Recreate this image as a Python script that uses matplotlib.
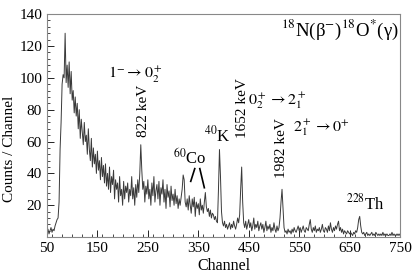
import numpy as np
import matplotlib
matplotlib.use("Agg")
import matplotlib.pyplot as plt
from matplotlib.ticker import MultipleLocator

plt.rcParams['font.family'] = ['Liberation Serif', 'DejaVu Serif']
plt.rcParams['mathtext.fontset'] = 'stix'

# channel grid (every 2nd channel) and counts
ch_start, ch_step = 50, 2
counts = [
    3, 5, 2, 4, 6, 3, 5, 4, 7, 9,            # 50-68
    11, 12, 22, 55, 72, 96, 102, 100, 128, 97,  # 70-88
    108, 94, 110, 90, 104, 86, 92, 78, 88, 76,  # 90-108
    84, 68, 80, 62, 74, 66, 58, 72, 60, 64,   # 110-128
    52, 68, 55, 48, 62, 44, 56, 46, 52, 40,   # 130-148
    54, 42, 48, 36, 50, 38, 45, 34, 46, 32,   # 150-168
    40, 30, 44, 28, 38, 33, 42, 24, 36, 30,   # 170-188
    34, 22, 38, 26, 30, 20, 35, 24, 32, 28,   # 190-208
    34, 22, 30, 26, 38, 24, 31, 20, 33, 25,   # 210-228
    36, 28, 40, 58, 42, 30, 35, 22, 32, 27,   # 230-248
    36, 24, 30, 20, 34, 26, 38, 22, 29, 33,   # 250-268
    24, 35, 20, 31, 27, 36, 22, 30, 18, 33,   # 270-288
    25, 29, 19, 32, 23, 27, 20, 30, 21, 26,   # 290-308
    18, 24, 20, 25, 30, 39, 36, 22, 19, 24,   # 310-328
    17, 26, 20, 15, 24, 19, 25, 13, 22, 18,   # 330-348
    21, 14, 24, 17, 20, 15, 22, 28, 19, 16,   # 350-368
    18, 13, 17, 12, 15, 14, 11, 13, 10, 9,    # 370-388
    30, 55, 38, 16, 9, 7, 10, 6, 8, 5,        # 390-408
    7, 9, 5, 8, 6, 10, 7, 5, 8, 12,           # 410-428
    9, 14, 30, 44, 22, 9, 6, 10, 5, 8,        # 430-448
    11, 6, 9, 4, 7, 12, 5, 8, 6, 10,          # 450-468
    4, 7, 9, 5, 8, 3, 6, 10, 4, 7,            # 470-488
    5, 8, 3, 6, 4, 9, 5, 3, 7, 4,             # 490-508
    6, 12, 22, 30, 18, 6, 3, 4, 2, 5,         # 510-528
    3, 4, 2, 5, 3, 6, 4, 3, 5, 7,             # 530-548
    4, 6, 3, 5, 7, 4, 3, 6, 5, 4,             # 550-568
    8, 11, 5, 3, 6, 4, 7, 3, 5, 4,            # 570-588
    6, 3, 5, 8, 4, 3, 6, 5, 3, 7,             # 590-608
    4, 9, 5, 3, 6, 4, 7, 5, 8, 10,            # 610-628
    4, 6, 3, 5, 2, 4, 3, 2, 4, 3,             # 630-648
    2, 3, 2, 1, 3, 2, 4, 3, 6, 11,            # 650-668
    13, 7, 3, 2, 3, 1, 2, 3, 1, 2,            # 670-688
    1, 2, 3, 1, 2, 1, 3, 2, 1, 2,             # 690-708
    1, 2, 1, 3, 1, 2, 1, 2, 1, 1,             # 710-728
    2, 1, 3, 1, 2, 1, 1, 2, 1, 2,             # 730-748
    1,                                        # 750
]
channels = ch_start + ch_step * np.arange(len(counts))

fig = plt.figure(figsize=(4.12, 2.77), dpi=100)
ax = fig.add_axes([0.114, 0.144, 0.857, 0.805])
ax.plot(channels, counts, color='#3a3a3a', lw=0.7)

ax.set_xlim(50, 750)
ax.set_ylim(0, 140)
ax.set_xticks(np.arange(50, 751, 100))
ax.set_yticks(np.arange(20, 141, 20))
ax.xaxis.set_minor_locator(MultipleLocator(20))
ax.yaxis.set_minor_locator(MultipleLocator(4))
ax.tick_params(which='both', direction='in', top=False, right=False, labelsize=11)
ax.tick_params(which='major', length=5, width=0.6)
ax.tick_params(which='minor', length=2.5, width=0.5)
for s in ax.spines.values():
    s.set_color('#888888')
    s.set_linewidth(0.8)

ax.set_xlabel('Channel', fontsize=11.5)
ax.set_ylabel('Counts / Channel', fontsize=11)
ax.yaxis.set_label_coords(-0.088, 0.395)
ax.xaxis.set_label_coords(0.5, -0.095)

ax.text(0.995, 0.985, r'$^{18}$N(β$^{-}$)$^{18}$O$^{*}$(γ)', transform=ax.transAxes,
        ha='right', va='top', fontsize=13.5)
ax.text(171, 102, r'$1^{-} \rightarrow 0_2^+$', fontsize=11.5, va='center')
ax.text(241, 79, '822 keV', rotation=90, fontsize=11, ha='center', va='center')
ax.text(333, 50, r'$^{60}$Co', fontsize=12, ha='center', va='center')
ax.plot([343, 335], [43, 35], color='black', lw=1.2)
ax.plot([353, 362], [43, 31], color='black', lw=1.2)
ax.text(388, 64, r'$^{40}$K', fontsize=12, ha='center', va='center')
ax.text(437, 81, '1652 keV', rotation=90, fontsize=11, ha='center', va='center')
ax.text(449, 86, r'$0_2^+ \rightarrow 2_1^+$', fontsize=11.5, va='center')
ax.text(514, 56, '1982 keV', rotation=90, fontsize=11, ha='center', va='center')
ax.text(538, 69, r'$2_1^+ \rightarrow 0^{+}$', fontsize=11.5, va='center')
ax.text(642, 21, r'$^{228}$Th', fontsize=12, va='center')

fig.savefig('out.png', dpi=100)
